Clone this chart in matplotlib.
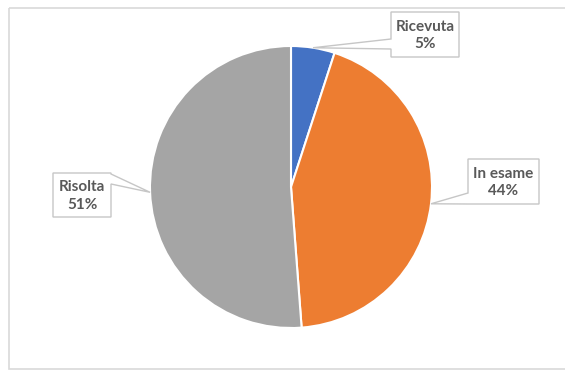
import numpy as np
import matplotlib
matplotlib.use("Agg")
import matplotlib.pyplot as plt
from matplotlib.patches import Polygon, Rectangle

# data
labels = ["Ricevuta", "In esame", "Risolta"]
shares = [5.0, 43.8, 51.2]
colors = ["#4472C4", "#ED7D31", "#A5A5A5"]

# layout (pixel coords, y down)
W, H = 565, 370
CENTER = (291, 187)
RADIUS = 141
# label boxes: (x0, x1, y0, y1), side the pointer leaves from, pointer base (ya, yb)
boxes = [
    ((391, 459, 12, 57), "left", (39, 49)),
    ((468, 539, 159, 204), "left", (193, 204)),
    ((53, 111, 173, 217), "right", (174, 184)),
]

fig = plt.figure(figsize=(W / 100, H / 100), dpi=100)
ax = fig.add_axes([0, 0, 1, 1])

# y axis inverted -> counterclock=True draws clockwise on screen
wedges, _ = ax.pie(shares, colors=colors, startangle=-90, counterclock=True,
                   center=CENTER, radius=RADIUS,
                   wedgeprops=dict(edgecolor="white", linewidth=1.5))
ax.set_xlim(0, W)
ax.set_ylim(H, 0)
ax.set_aspect("equal")
ax.axis("off")

# chart area border
ax.add_patch(Rectangle((8.5, 7.5), W, 361.5, fill=False, edgecolor="#d9d9d9",
                       linewidth=1.2, zorder=0))

for w, lab, val, (box, side, base) in zip(wedges, labels, shares, boxes):
    ang = np.deg2rad((w.theta1 + w.theta2) / 2)
    tip = (CENTER[0] + RADIUS * np.cos(ang), CENTER[1] + RADIUS * np.sin(ang))
    x0, x1, y0, y1 = box
    if side == "left":
        verts = [(x0, y0), (x1, y0), (x1, y1), (x0, y1),
                 (x0, base[1]), tip, (x0, base[0])]
    else:
        verts = [(x0, y0), (x1, y0), (x1, base[0]), tip,
                 (x1, base[1]), (x1, y1), (x0, y1)]
    ax.add_patch(Polygon(verts, closed=True, facecolor="white",
                         edgecolor="#c6c6c6", linewidth=1, zorder=3))
    ax.text((x0 + x1) / 2, (y0 + y1) / 2 + 1, f"{lab}\n{val:.0f}%",
            ha="center", va="center", fontsize=11, fontweight="bold",
            family="Lato", color="#595959", linespacing=1.3, zorder=4)

fig.savefig("out.png", dpi=100)
